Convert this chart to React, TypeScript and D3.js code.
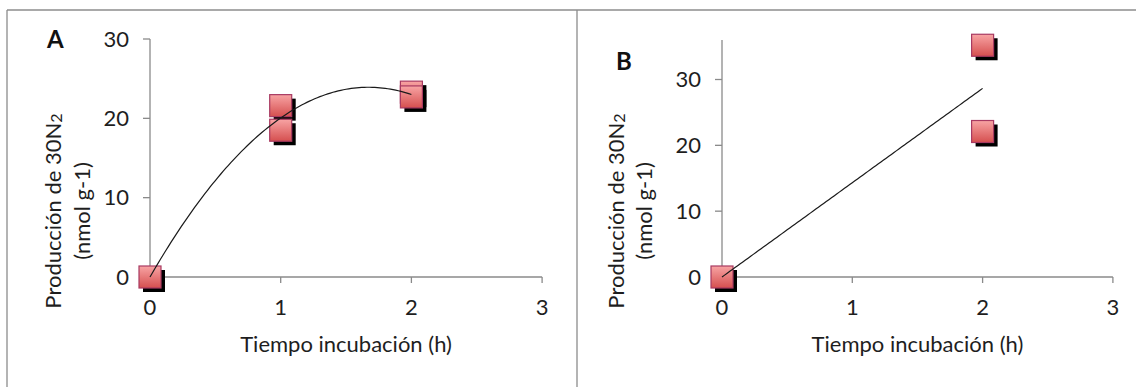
import { useLayoutEffect, useRef } from "react";
import * as d3 from "d3";

// panel A: incubation time (h) vs 30N2 production (nmol g-1)
const timeA = [0, 1, 1, 2, 2];
const prodA = [0, 21.6, 18.5, 23.3, 22.7];
// panel B
const timeB = [0, 2, 2];
const prodB = [0, 35.2, 22.1];

const xTicks = [0, 1, 2, 3];
const yTicks = [0, 10, 20, 30];
const yTitle1 = "Producción de 30N";
const yTitle2 = "(nmol g-1)";
const xTitle = "Tiempo incubación (h)";

const FONT = "Lato, 'Open Sans', sans-serif";
const INK = "#1e1e1e";
const AXIS = "#8a8a8a";

// least squares polynomial fit, returns coefficients c0..cn
function polyFit(xs: number[], ys: number[], order: number): number[] {
    const n = order + 1;
    const m: number[][] = d3.range(n).map(i => d3.range(n + 1).map(j => {
        if (j < n) return d3.sum(xs, x => Math.pow(x, i + j));
        return d3.sum(xs, (x, k) => Math.pow(x, i) * ys[k]);
    }));
    for (let c = 0; c < n; c++) {
        let p = c;
        for (let r = c + 1; r < n; r++) if (Math.abs(m[r][c]) > Math.abs(m[p][c])) p = r;
        [m[c], m[p]] = [m[p], m[c]];
        for (let r = 0; r < n; r++) {
            if (r === c) continue;
            const f = m[r][c] / m[c][c];
            for (let k = c; k <= n; k++) m[r][k] -= f * m[c][k];
        }
    }
    return d3.range(n).map(i => m[i][n] / m[i][i]);
}

interface PanelOpts {
    label: string;
    xs: number[];
    ys: number[];
    order: number;
    yMax: number;
    x0: number;        // pixel of x = 0
    unit: number;      // pixels per hour
    yTop: number;
    labelX: number;
    labelY: number;
    titleX1: number;
    titleX2: number;
    gradId: string;
}

function drawPanel(svg: d3.Selection<SVGSVGElement, unknown, null, undefined>, o: PanelOpts) {
    const x = d3.scaleLinear().domain([0, 3]).range([o.x0, o.x0 + 3 * o.unit]);
    const y = d3.scaleLinear().domain([0, o.yMax]).range([277, o.yTop]);
    const g = svg.append("g");

    // axes
    g.append("line").attr("x1", x(0)).attr("x2", x(0)).attr("y1", o.yTop).attr("y2", y(0))
        .attr("stroke", AXIS).attr("stroke-width", 1.3);
    g.append("line").attr("x1", x(0)).attr("x2", x(3)).attr("y1", y(0)).attr("y2", y(0))
        .attr("stroke", AXIS).attr("stroke-width", 1.3);
    g.selectAll(".yt").data(yTicks).enter().append("line")
        .attr("x1", x(0) - 7).attr("x2", x(0)).attr("y1", d => y(d)).attr("y2", d => y(d))
        .attr("stroke", AXIS).attr("stroke-width", 1.3);
    g.selectAll(".xt").data(xTicks.slice(1)).enter().append("line")
        .attr("x1", d => x(d)).attr("x2", d => x(d)).attr("y1", y(0)).attr("y2", y(0) + 6)
        .attr("stroke", AXIS).attr("stroke-width", 1.3);

    const txt = (sel: d3.Selection<SVGTextElement, any, any, any>) =>
        sel.attr("font-family", FONT).attr("fill", INK).attr("font-size", 22);

    g.selectAll(".yl").data(yTicks).enter().append("text").call(txt)
        .attr("x", x(0) - 21).attr("y", d => y(d) + 7.5).attr("text-anchor", "end")
        .text(d => d);
    g.selectAll(".xl").data(xTicks).enter().append("text").call(txt)
        .attr("x", d => x(d)).attr("y", 315).attr("text-anchor", "middle")
        .text(d => d);
    g.append("text").call(txt).attr("x", x(1.5)).attr("y", 352).attr("text-anchor", "middle").text(xTitle);

    const t1 = g.append("text").call(txt).attr("text-anchor", "middle")
        .attr("transform", `translate(${o.titleX1},211) rotate(-90)`);
    t1.append("tspan").text(yTitle1);
    t1.append("tspan").attr("font-size", 16).attr("dy", 1).text("2");
    g.append("text").call(txt).attr("text-anchor", "middle")
        .attr("transform", `translate(${o.titleX2},211) rotate(-90)`).text(yTitle2);

    g.append("text").attr("font-family", FONT).attr("font-weight", "bold").attr("font-size", 24)
        .attr("fill", "#111").attr("x", o.labelX).attr("y", o.labelY).text(o.label);

    // markers
    const pts = o.xs.map((d, i) => [x(d), y(o.ys[i])]);
    const s = 22;
    g.selectAll(".sh").data(pts).enter().append("rect")
        .attr("x", d => d[0] - s / 2 + 4).attr("y", d => d[1] - s / 2 + 4)
        .attr("width", s).attr("height", s).attr("fill", "#000");
    g.selectAll(".mk").data(pts).enter().append("rect")
        .attr("x", d => d[0] - s / 2).attr("y", d => d[1] - s / 2)
        .attr("width", s).attr("height", s)
        .attr("fill", `url(#${o.gradId})`).attr("stroke", "#a83a62").attr("stroke-width", 1.2);

    // trendline
    const c = polyFit(o.xs, o.ys, o.order);
    const f = (t: number) => c.reduce((acc, k, i) => acc + k * Math.pow(t, i), 0);
    const line = d3.line<number>().x(t => x(t)).y(t => y(f(t)));
    g.append("path").attr("d", line(d3.range(0, 2.001, 0.02)))
        .attr("fill", "none").attr("stroke", "#1a1a1a").attr("stroke-width", 1.2);
}

function App() {
    const svgRef = useRef<SVGSVGElement | null>(null);
    useLayoutEffect(() => {
        const el = svgRef.current!;
        const svg = d3.select(el);
        svg.selectAll("*").remove();

        const defs = svg.append("defs");
        ["gA", "gB"].forEach(id => {
            const gr = defs.append("linearGradient").attr("id", id)
                .attr("x1", 0).attr("y1", 0).attr("x2", 0).attr("y2", 1);
            gr.append("stop").attr("offset", "0%").attr("stop-color", "#f8a4a4");
            gr.append("stop").attr("offset", "100%").attr("stop-color", "#d54f4f");
        });

        svg.append("rect").attr("width", 1136).attr("height", 387).attr("fill", "#fff");
        // frames
        const frame = svg.append("g").attr("stroke", "#8c8c8c").attr("stroke-width", 1.3).attr("fill", "none");
        frame.append("line").attr("x1", 7).attr("x2", 1136).attr("y1", 10).attr("y2", 10);
        frame.append("line").attr("x1", 7).attr("x2", 7).attr("y1", 10).attr("y2", 387);
        frame.append("line").attr("x1", 577).attr("x2", 577).attr("y1", 10).attr("y2", 387);

        drawPanel(svg, {
            label: "A", xs: timeA, ys: prodA, order: 2, yMax: 30, x0: 150, unit: 130.7, yTop: 39,
            labelX: 47, labelY: 48, titleX1: 61, titleX2: 90, gradId: "gA",
        });
        drawPanel(svg, {
            label: "B", xs: timeB, ys: prodB, order: 1, yMax: 36, x0: 722, unit: 130.3, yTop: 40,
            labelX: 616, labelY: 70, titleX1: 624, titleX2: 652, gradId: "gB",
        });
        return () => { svg.selectAll("*").remove(); };
    }, []);

    return (
        <svg ref={svgRef} width={1136} height={387}
            style={{ position: "absolute", left: 0, top: 0, display: "block" }} />
    );
}

export default App;
